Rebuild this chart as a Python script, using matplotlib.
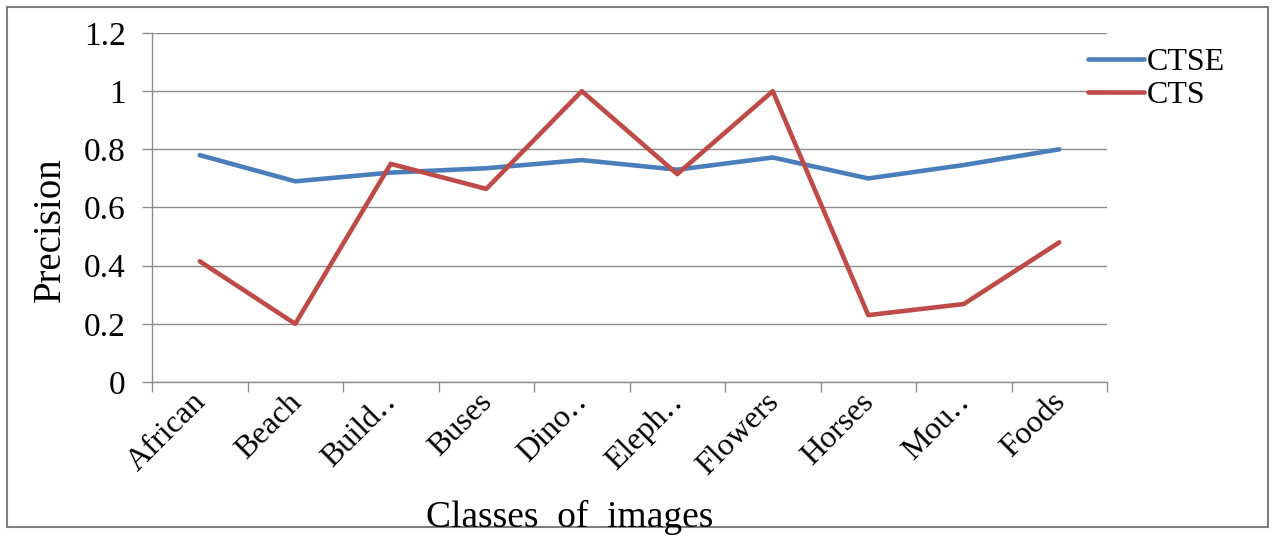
import matplotlib.pyplot as plt
from matplotlib.patches import Rectangle
from matplotlib.transforms import ScaledTranslation
import numpy as np

# data
classes = ['African', 'Beach', 'Build\u2025', 'Buses', 'Dino\u2025',
           'Eleph\u2025', 'Flowers', 'Horses', 'Mou\u2025', 'Foods']
ctse = [0.78, 0.69, 0.72, 0.735, 0.763, 0.73, 0.772, 0.70, 0.746, 0.80]
cts = [0.415, 0.20, 0.75, 0.664, 1.0, 0.715, 1.0, 0.23, 0.268, 0.48]
yticks = [0, 0.2, 0.4, 0.6, 0.8, 1, 1.2]
ytick_labels = ['0', '0.2', '0.4', '0.6', '0.8', '1', '1.2']

plt.rcParams['font.family'] = ['Liberation Serif', 'DejaVu Serif']

fig = plt.figure(figsize=(12.72, 5.36), dpi=100)
ax = fig.add_axes([152/1272, 1-382/536, (1107-152)/1272, (382-33)/536])

x = np.arange(len(classes))
ax.plot(x, ctse, color='#4A7EBB', lw=3.3, label='CTSE', solid_capstyle='round')
ax.plot(x, cts, color='#BE4B48', lw=3.3, label='CTS', solid_capstyle='round')

ax.set_xlim(-0.5, len(classes)-0.5)
ax.set_ylim(0, 1.2)
ax.set_yticks(yticks)
ax.set_yticklabels(ytick_labels)
ax.yaxis.grid(True, color='#8c8c8c', lw=1)
ax.set_axisbelow(True)

# ticks on category boundaries, labels at centres
ax.set_xticks(np.arange(-0.5, len(classes)), minor=False)
ax.set_xticklabels([])
ax.set_xticks(x, minor=True)
ax.set_xticklabels(classes, minor=True, rotation=45, ha='right', fontsize=23)
ax.tick_params(axis='x', which='major', length=7, color='#8c8c8c', width=1)
ax.tick_params(axis='x', which='minor', length=0, pad=4)
ax.tick_params(axis='y', length=7, color='#8c8c8c', width=1, labelsize=24, pad=12)
shift = ScaledTranslation(12/100, 0, fig.dpi_scale_trans)
for lbl in ax.get_xticklabels(minor=True):
    lbl.set_transform(lbl.get_transform() + shift)

for s in ['top', 'right']:
    ax.spines[s].set_visible(False)
for s in ['left', 'bottom']:
    ax.spines[s].set_color('#8c8c8c')
    ax.spines[s].set_linewidth(1)

fig.text(50/1272, 1-230/536, 'Precision', rotation=90, fontsize=28,
         ha='center', va='center')
fig.text(570/1272, 1-527/536, 'Classes  of  images', fontsize=27,
         ha='center', va='baseline')

ax.legend(loc='upper left', bbox_to_anchor=(1088/1272, 1-48/536),
          bbox_transform=fig.transFigure, frameon=False, fontsize=23,
          handlelength=1.75, handletextpad=0.1, labelspacing=0.1,
          borderaxespad=0, borderpad=0)

fig.patches.append(Rectangle((7/1272, 1-527/536), 1261/1272, 520/536,
                             transform=fig.transFigure, fill=False,
                             edgecolor='#7f7f7f', lw=1.5, zorder=-1))

fig.savefig('out.png', dpi=100)
